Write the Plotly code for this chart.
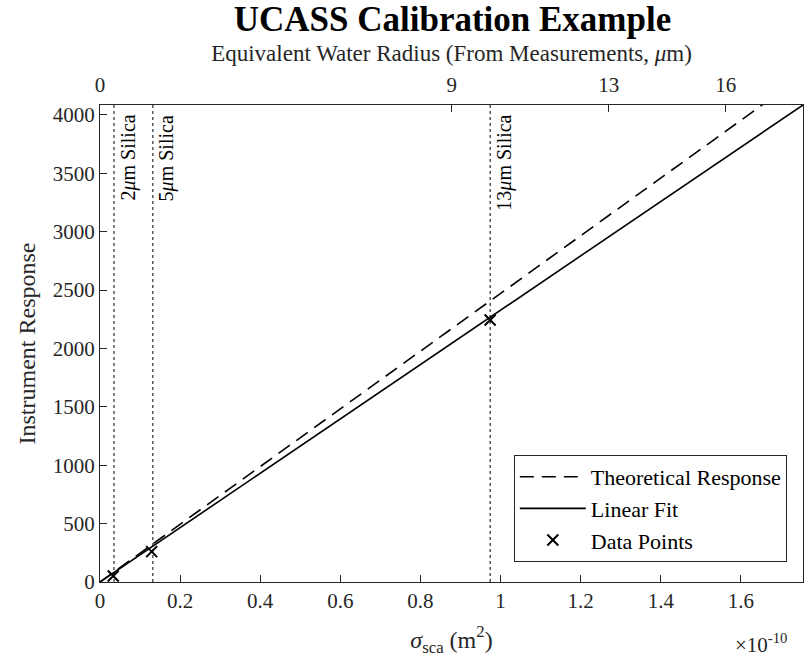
import plotly.graph_objects as go

# Data (x in m^2, y instrument response)
data_x = [0.033e-10, 0.129e-10, 0.974e-10]
data_y = [51, 260, 2244]

fit_x = [0.0, 1.755e-10]
fit_y = [0, 4085]

theo_x = [0.0, 1.755e-10]
theo_y = [0, 4337]

silica_x = [0.035e-10, 0.132e-10, 0.974e-10]
silica_labels = ["2<i>μ</i>m Silica", "5<i>μ</i>m Silica", "13<i>μ</i>m Silica"]

top_tickvals = [0.0, 0.878e-10, 1.270e-10, 1.562e-10]
top_ticktext = ["0", "9", "13", "16"]

bottom_tickvals = [0, 0.2e-10, 0.4e-10, 0.6e-10, 0.8e-10, 1.0e-10, 1.2e-10, 1.4e-10, 1.6e-10]
bottom_ticktext = ["0", "0.2", "0.4", "0.6", "0.8", "1", "1.2", "1.4", "1.6"]

y_tickvals = [0, 500, 1000, 1500, 2000, 2500, 3000, 3500, 4000]

X_RANGE = [0, 1.755e-10]
Y_RANGE = [0, 4085]

FONT = "Liberation Serif, Times New Roman, serif"
AX = "#262626"

fig = go.Figure()

# silica vertical dotted lines
for xv in silica_x:
    fig.add_trace(go.Scatter(x=[xv, xv], y=Y_RANGE, mode="lines",
                             line=dict(color="black", width=1, dash="dot"),
                             showlegend=False, hoverinfo="skip"))

fig.add_trace(go.Scatter(x=theo_x, y=theo_y, mode="lines", name="Theoretical Response",
                         line=dict(color="black", width=1.6, dash="14px,8px")))
fig.add_trace(go.Scatter(x=fit_x, y=fit_y, mode="lines", name="Linear Fit",
                         line=dict(color="black", width=1.6)))
fig.add_trace(go.Scatter(x=data_x, y=data_y, mode="markers", name="Data Points",
                         marker=dict(symbol="x-thin", size=11, color="black",
                                     line=dict(color="black", width=2))))
# invisible trace for top axis
fig.add_trace(go.Scatter(x=X_RANGE, y=[None, None], xaxis="x2", showlegend=False,
                         hoverinfo="skip"))

for xv, lab in zip(silica_x, silica_labels):
    fig.add_annotation(x=xv, y=Y_RANGE[1], xref="x", yref="y", text=lab,
                       textangle=-90, showarrow=False, xanchor="left", yanchor="top",
                       xshift=0, yshift=-8, font=dict(family=FONT, size=20, color="black"))

fig.add_annotation(x=1.0, y=0, xref="paper", yref="paper", yshift=-46, xshift=-14,
                   text="×10<sup>-10</sup>", showarrow=False, xanchor="right", yanchor="top",
                   font=dict(family=FONT, size=21, color=AX))

fig.update_layout(
    width=808, height=671,
    margin=dict(l=100, r=5, t=105, b=89),
    paper_bgcolor="white", plot_bgcolor="white",
    font=dict(family=FONT, size=21, color=AX),
    title=dict(text="<b>UCASS Calibration Example</b>", x=0.56, xanchor="center",
               y=0.972, yanchor="middle", font=dict(family=FONT, size=35, color="black")),
    xaxis=dict(range=X_RANGE, tickvals=bottom_tickvals, ticktext=bottom_ticktext,
               ticks="inside", ticklen=7, tickcolor=AX, showline=True, linecolor=AX,
               linewidth=1, mirror=True, showgrid=False, zeroline=False,
               tickfont=dict(size=21),
               title=dict(text="<i>σ</i><sub>sca</sub> (m<sup>2</sup>)", standoff=18,
                          font=dict(size=24))),
    xaxis2=dict(range=X_RANGE, overlaying="x", side="top", tickvals=top_tickvals,
                ticktext=top_ticktext, ticks="inside", ticklen=7, tickcolor=AX,
                showline=False, showgrid=False, zeroline=False,
                tickfont=dict(size=21), ticklabelstandoff=8,
                title=dict(text="Equivalent Water Radius (From Measurements, <i>μ</i>m)",
                           standoff=4, font=dict(size=23))),
    yaxis=dict(range=Y_RANGE, tickvals=y_tickvals, ticks="inside", ticklen=7,
               tickcolor=AX, showline=True, linecolor=AX, linewidth=1, mirror=True,
               showgrid=False, zeroline=False, tickfont=dict(size=21),
               title=dict(text="Instrument Response", standoff=10, font=dict(size=24))),
    legend=dict(x=0.977, y=0.042, xanchor="right", yanchor="bottom",
                bgcolor="white", bordercolor=AX, borderwidth=1,
                font=dict(family=FONT, size=22, color="black"),
                tracegroupgap=0, itemwidth=66),
    showlegend=True,
)

fig.write_html("out.html")
